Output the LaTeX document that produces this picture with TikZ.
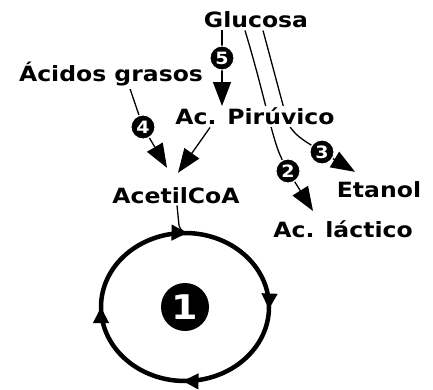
\documentclass[tikz,border=0pt]{standalone}
\usepackage{fontspec}
\setmainfont{DejaVu Sans Bold}[FakeStretch=1.12]
\usetikzlibrary{arrows.meta, decorations.markings, backgrounds}

\begin{document}
\begin{tikzpicture}[x=1pt, y=-1pt,
    etiqueta/.style={anchor=base, fill=white, inner sep=2pt, font=\fontsize{21}{24}\selectfont},
    numero/.style={circle, fill=black, draw=white, line width=1pt, text=white, inner sep=0pt, minimum size=24pt, font=\fontsize{17}{17}\selectfont},
    flecha/.style={line width=1.3pt, -{Triangle[length=24pt, width=18pt]}},
    marca/.style={decoration={markings,
        mark=at position 0.245 with {\arrowreversed{Triangle[length=16pt, width=15pt]}},
        mark=at position 0.5 with {\arrowreversed{Triangle[length=16pt, width=15pt]}},
        mark=at position 0.745 with {\arrowreversed{Triangle[length=16pt, width=15pt]}},
        mark=at position 0.995 with {\arrowreversed{Triangle[length=16pt, width=15pt]}}},
        postaction={decorate}}]
    \useasboundingbox (0,0) rectangle (433,390);

    % Sustancias
    \node[etiqueta] (glu) at (256,28) {Glucosa};
    \node[etiqueta] (acg) at (111,82) {Ácidos grasos};
    \node[etiqueta] (pir) at (255,125) {Ac. Pirúvico};
    \node[etiqueta] (ace) at (176,203) {AcetilCoA};
    \node[etiqueta] (eta) at (379,197) {Etanol};
    \node[etiqueta] (lac) at (343,237) {Ac. láctico};

    % Rutas numeradas
    \node[numero] (n5) at (222,58) {5};
    \node[numero] (n4) at (143,127) {4};
    \node[numero] (n3) at (322,152) {3};
    \node[numero] (n2) at (288,171) {2};

    \begin{scope}[on background layer]
        \fill[white] (0,0) rectangle (433,390);
        \draw[flecha] (n5 |- glu.south) -- (n5 |- pir.north);
        \draw[flecha] ([xshift=19pt]acg.south) -- (n4) -- ([xshift=-9pt, yshift=17pt]ace.north);
        \draw[flecha] ([xshift=-45pt]pir.south) -- ([xshift=2pt, yshift=12pt]ace.north);
        \draw[flecha] ([xshift=-11pt]glu.south) .. controls (266,100) and (272,140) .. (n2) -- ([xshift=-30pt, yshift=7pt]lac.north);
        \draw[flecha] ([xshift=7pt]glu.south) -- (287,120) .. controls (291,132) and (300,138) .. (n3) -- ([xshift=-24pt, yshift=7pt]eta.north);
    \end{scope}

    % Ciclo
    \draw[line width=4.5pt, marca] (185,307) ellipse [x radius=84pt, y radius=74pt];
    \node[numero, draw=none, minimum size=48pt, font=\fontsize{34}{34}\selectfont] (n1) at (185,307) {1};
    \coordinate (entrada) at (189,233);
    \draw[line width=1.3pt] ([xshift=1pt]ace.south) -- ++(2,20) .. controls +(1,5) and +(-4,0) .. (entrada);
\end{tikzpicture}
\end{document}
